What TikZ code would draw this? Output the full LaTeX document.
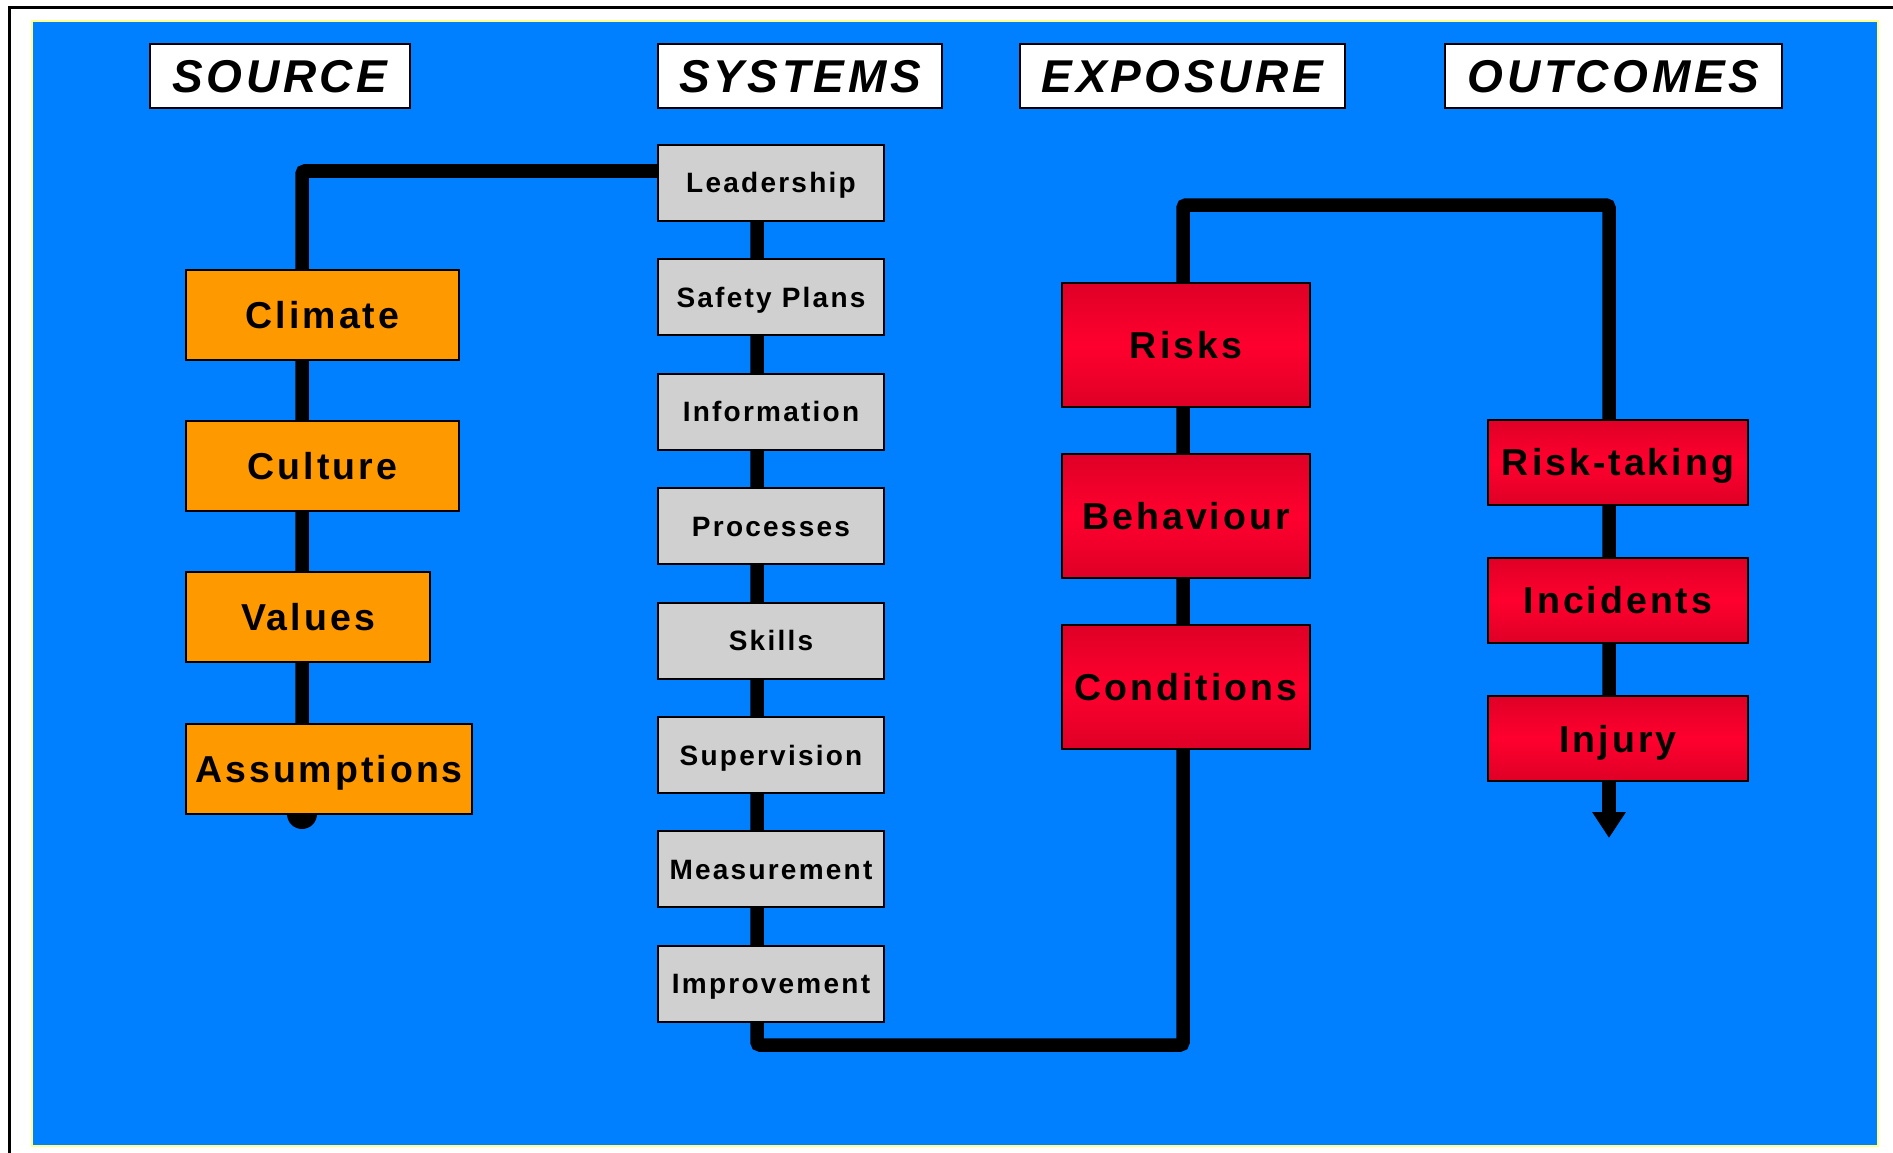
\documentclass[tikz,border=0pt]{standalone}
\usepackage{fontspec}
\setmainfont{Liberation Sans}
\newfontfamily\boxfont[LetterSpace=8]{Liberation Sans}
\usetikzlibrary{arrows.meta}

\definecolor{panelblue}{RGB}{0,128,255}
\definecolor{paleyellow}{RGB}{255,255,140}
\definecolor{srcorange}{RGB}{255,153,0}
\definecolor{sysgray}{RGB}{208,208,208}
\definecolor{rededge}{RGB}{222,0,38}
\definecolor{redmid}{RGB}{255,0,46}

\pgfdeclarelayer{backdrop}
\pgfdeclarelayer{wires}
\pgfsetlayers{backdrop,wires,main}

\tikzset{
  every node/.style={inner sep=0pt, outer sep=0pt, text depth=0pt},
  hdr/.style={draw=black, fill=white, line width=2.5pt, minimum height=64pt,
    font=\boxfont\bfseries\itshape\fontsize{46}{46}\selectfont, text height=33pt},
  srcbox/.style={draw=black, fill=srcorange, line width=2pt, minimum height=90pt,
    font=\boxfont\bfseries\fontsize{37.5}{37.5}\selectfont, text height=27pt},
  sysbox/.style={draw=black, fill=sysgray, line width=2pt, minimum width=226pt, minimum height=76pt,
    font=\boxfont\bfseries\fontsize{28}{28}\selectfont, text height=20pt},
  expbox/.style={draw=black, line width=2pt, minimum width=248pt, minimum height=124pt,
    top color=rededge, bottom color=rededge, middle color=redmid,
    font=\boxfont\bfseries\fontsize{37.5}{37.5}\selectfont, text height=27pt},
  outbox/.style={draw=black, line width=2pt, minimum width=260pt, minimum height=85pt,
    top color=rededge, bottom color=rededge, middle color=redmid,
    font=\boxfont\bfseries\fontsize{37.5}{37.5}\selectfont, text height=27pt},
  link/.style={draw=black, line width=13.5pt, rounded corners=3pt},
}

\begin{document}
\begin{tikzpicture}[x=1pt, y=-1pt]
\useasboundingbox (0,0) rectangle (1893,1153);

% frame and panel
\begin{pgfonlayer}{backdrop}
  \draw[black, line width=2.5pt] (9.5,1153) -- (9.5,7.5) -- (1893,7.5);
  \draw[paleyellow, line width=2pt, fill=panelblue] (32,21) rectangle (1878,1146);
\end{pgfonlayer}

% column headings
\node[hdr, minimum width=260pt] (hSource)   at (280,76)    {SOURCE};
\node[hdr, minimum width=284pt] (hSystems)  at (800,76)    {SYSTEMS};
\node[hdr, minimum width=325pt] (hExposure) at (1182.5,76) {EXPOSURE};
\node[hdr, minimum width=337pt] (hOutcomes) at (1613.5,76) {OUTCOMES};

% source
\node[srcbox, minimum width=273pt] (clim) at (322.5,315) {Climate};
\node[srcbox, minimum width=273pt] (cult) at (322.5,466) {Culture};
\node[srcbox, minimum width=244pt] (vals) at (308,617)   {Values};
\node[srcbox, minimum width=286pt] (asm)  at (329,769)   {Assumptions};

% systems
\node[sysbox] (lead) at (771,183)    {Leadership};
\node[sysbox] (plan) at (771,297.4)  {Safety Plans};
\node[sysbox] (info) at (771,411.8)  {Information};
\node[sysbox] (proc) at (771,526.2)  {Processes};
\node[sysbox] (skil) at (771,640.6)  {Skills};
\node[sysbox] (supv) at (771,755)    {Supervision};
\node[sysbox] (meas) at (771,869.4)  {Measurement};
\node[sysbox] (impr) at (771,983.8)  {Improvement};

% exposure
\node[expbox] (risk) at (1186,345) {Risks};
\node[expbox] (behv) at (1186,516) {Behaviour};
\node[expbox] (cond) at (1186,687) {Conditions};

% outcomes
\node[outbox] (rtak) at (1618,462)   {Risk-taking};
\node[outbox] (inci) at (1618,600)   {Incidents};
\node[outbox] (inj)  at (1618,738.5) {Injury};

% connector bends
\coordinate (srcTop)  at (302,171);
\coordinate (sysBot)  at (757,1045);
\coordinate (expBot)  at (1183,1045);
\coordinate (expTop)  at (1183,205);
\coordinate (outTop)  at (1609,205);
\coordinate (outEnd)  at (1609,838);

\begin{pgfonlayer}{wires}
  % source spine into leadership
  \draw[link] (asm.south -| srcTop) -- (srcTop) -- (lead.west |- srcTop);
  \fill[black] (asm.south -| srcTop) circle (15pt);
  % systems spine down and across, then up through the exposure column
  \draw[link] (lead.south -| sysBot) -- (sysBot) -- (expBot) -- (risk.north -| expBot);
  % exposure over to outcomes
  \draw[link] (risk.north -| expTop) -- (expTop) -- (outTop) -- (inj.south -| outTop);
  \draw[link, -{Triangle[width=32pt, length=26pt]}] (inj.south -| outTop) -- (outEnd);
\end{pgfonlayer}
\end{tikzpicture}
\end{document}
